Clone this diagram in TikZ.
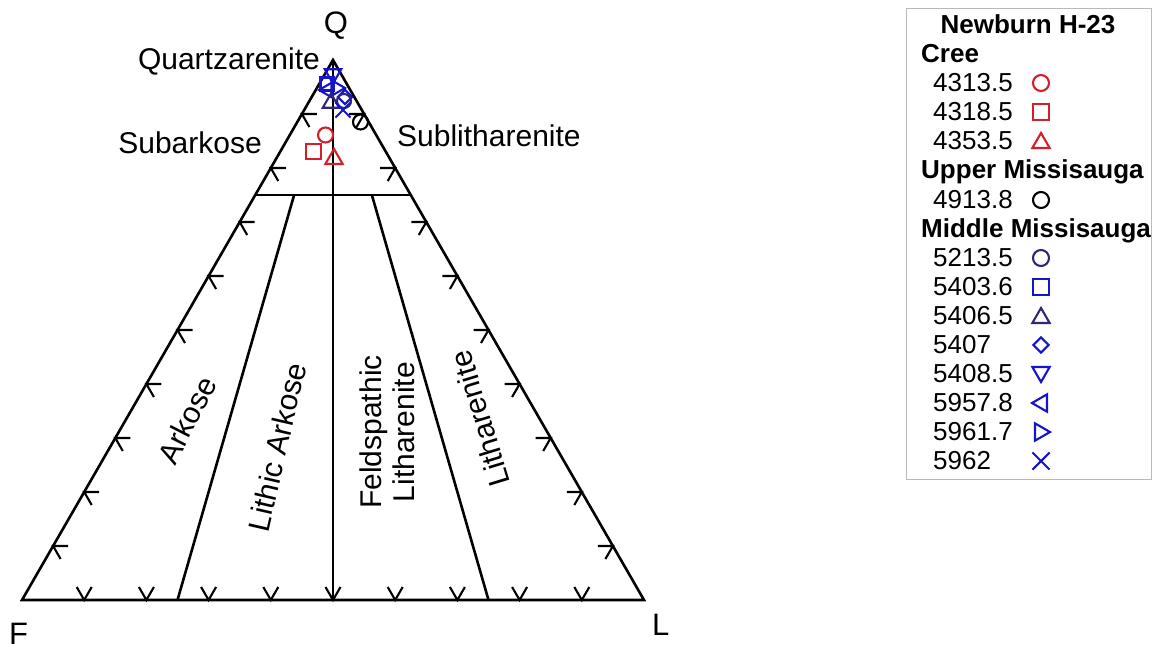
\documentclass[tikz,border=0pt]{standalone}
\usepackage{fontspec}
\setmainfont{Liberation Sans}
\usetikzlibrary{calc,shapes.geometric,shapes.misc}
\definecolor{mred}{RGB}{215,30,40}
\definecolor{mblue}{RGB}{20,20,205}
\definecolor{mnavy}{RGB}{45,40,120}
\tikzset{
  edge/.style={line width=2.6pt},
  tickmark/.style={line width=2.1pt},
  lab/.style={font=\fontsize{30}{33}\selectfont, inner sep=0pt},
  corner/.style={font=\fontsize{31}{31}\selectfont, inner sep=0pt},
  legtxt/.style={font=\fontsize{26}{29}\selectfont, inner sep=0pt, anchor=base west},
  legbold/.style={font=\fontsize{26}{29}\selectfont\bfseries, inner sep=0pt, anchor=base west},
  mk/.style={draw, line width=2.1pt, inner sep=0pt, fill=none},
  mcirc/.style={mk, circle, minimum size=15pt},
  msq/.style={mk, rectangle, minimum size=15.5pt},
  mtri/.style={mk, regular polygon, regular polygon sides=3, minimum size=20pt},
  mtrid/.style={mtri, shape border rotate=180},
  mtril/.style={mtri, shape border rotate=90},
  mtrir/.style={mtri, shape border rotate=-90},
  mdia/.style={mk, diamond, minimum width=16pt, minimum height=16pt},
  mx/.style={mk, cross out, minimum size=13pt},
}
\begin{document}
\begin{tikzpicture}[x=1pt,y=-1pt]
\useasboundingbox (0,0) rectangle (1162,649);
% corners
\coordinate (F) at (22,600);
\coordinate (L) at (644,600);
\coordinate (Q) at (333,60);
\draw[edge, line join=miter] (F) -- (L) -- (Q) -- cycle;
% Q75 line
\coordinate (a) at ($(F)!0.75!(Q)$);
\coordinate (b) at ($(L)!0.75!(Q)$);
\draw[edge] (a) -- (b);
% vertical line
\coordinate (m) at ($(F)!0.5!(L)$);
\draw[edge] (Q) -- (m);
% 3:1 lines
\coordinate (a1) at ($(a)!0.25!(b)$);
\coordinate (f1) at ($(F)!0.25!(L)$);
\coordinate (a3) at ($(a)!0.75!(b)$);
\coordinate (f3) at ($(F)!0.75!(L)$);
\draw[edge] (a1) -- (f1);
\draw[edge] (a3) -- (f3);
% ticks
\foreach \k in {1,...,9} {
  \coordinate (lt\k) at ($(F)!\k/10!(Q)$);
  \draw[tickmark] ($(lt\k)+(15,0)$) -- (lt\k) -- ($(lt\k)+(7.5,13)$);
  \coordinate (rt\k) at ($(L)!\k/10!(Q)$);
  \draw[tickmark] ($(rt\k)+(-15,0)$) -- (rt\k) -- ($(rt\k)+(-7.5,13)$);
  \coordinate (bt\k) at ($(F)!\k/10!(L)$);
  \draw[tickmark] ($(bt\k)+(-7.5,-13)$) -- (bt\k) -- ($(bt\k)+(7.5,-13)$);
}
% corner labels
\node[corner, anchor=base] (lq) at (336,33) {Q};
\node[corner, anchor=base west] (lf) at (9,644) {F};
\node[corner, anchor=base west] (ll) at (652,635) {L};
% field labels
\node[lab, anchor=base east] (tqa) at (320,69) {Quartzarenite};
\node[lab, anchor=base east] (tsa) at (262,153) {Subarkose};
\node[lab, anchor=base west] (tsl) at (397,146) {Sublitharenite};
\node[lab, rotate=63] (tar) at (187,420) {Arkose};
\node[lab, rotate=77] (tla) at (277,447) {Lithic Arkose};
\node[lab, rotate=90, align=center] (tfl) at (387,432) {Feldspathic\\Litharenite};
\node[lab, rotate=107] (tli) at (480,419) {Litharenite};
% data points
\node[mcirc, mred] (p1) at (325.5,135) {};
\node[msq, mred] (p2) at (313.5,151.5) {};
\node[mtri, mred, minimum size=20pt] (p3) at (334,159) {};
\node[mcirc, black] (p4) at (360.5,122) {};
\node[mtrid, mblue, minimum size=19pt] (p9) at (333,74) {};
\node[msq, mblue, minimum size=13pt] (p6) at (327,84) {};
\node[mtril, mblue, minimum size=18pt] (p10) at (328,90) {};
\node[mtrir, mblue, minimum size=18pt] (p11) at (336,88) {};
\node[mtri, mnavy, minimum size=19pt] (p7) at (331,103) {};
\node[mdia, mblue, minimum width=15pt, minimum height=15pt] (p8) at (345,97) {};
\node[mcirc, mnavy, minimum size=14pt] (p5) at (344,101) {};
\node[mx, mblue] (p12) at (343,110) {};
% legend
\draw[gray!55, line width=1pt] (906,8) rectangle (1151,479);
\node[font=\fontsize{26}{29}\selectfont\bfseries, inner sep=0pt, anchor=base] (lg0) at (1028,33) {Newburn H-23};
\node[legbold] (lg1) at (921,62) {Cree};
\node[legtxt] (lg2) at (933,91) {4313.5};
\node[legtxt] (lg3) at (933,120) {4318.5};
\node[legtxt] (lg4) at (933,149) {4353.5};
\node[legbold] (lg5) at (921,178) {Upper Missisauga};
\node[legtxt] (lg6) at (933,208) {4913.8};
\node[legbold] (lg7) at (921,237) {Middle Missisauga};
\node[legtxt] (lg8) at (933,266) {5213.5};
\node[legtxt] (lg9) at (933,295) {5403.6};
\node[legtxt] (lg10) at (933,324) {5406.5};
\node[legtxt] (lg11) at (933,353) {5407};
\node[legtxt] (lg12) at (933,382) {5408.5};
\node[legtxt] (lg13) at (933,411) {5957.8};
\node[legtxt] (lg14) at (933,440) {5961.7};
\node[legtxt] (lg15) at (933,469) {5962};
\node[mcirc, mred, minimum size=16pt] (s2) at (1041,83) {};
\node[msq, mred, minimum size=16pt] (s3) at (1041,112) {};
\node[mtri, mred] (s4) at (1041,143) {};
\node[mcirc, black, minimum size=16pt] (s6) at (1041,200) {};
\node[mcirc, mnavy, minimum size=16pt] (s8) at (1041,258) {};
\node[msq, mblue, minimum size=16pt] (s9) at (1041,287) {};
\node[mtri, mnavy] (s10) at (1041,318) {};
\node[mdia, mblue] (s11) at (1041,345) {};
\node[mtrid, mblue] (s12) at (1041,372) {};
\node[mtril, mblue] (s13) at (1042,403) {};
\node[mtrir, mblue] (s14) at (1040,432) {};
\node[mx, mblue, minimum size=15pt] (s15) at (1041,461) {};
\end{tikzpicture}
\end{document}
